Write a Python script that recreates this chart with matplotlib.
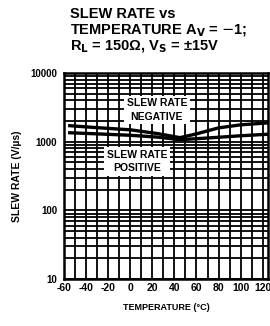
import matplotlib
matplotlib.use("Agg")
import matplotlib.pyplot as plt
import numpy as np

# slew rate vs temperature
temp = [-55, -30, 0, 25, 45, 60, 80, 100, 125]
sr_neg = [1710, 1600, 1490, 1310, 1145, 1300, 1590, 1760, 1880]
sr_pos = [1350, 1300, 1240, 1165, 1070, 1105, 1160, 1220, 1285]

xticks = [-60, -40, -20, 0, 20, 40, 60, 80, 100, 120]
yticks = [10, 100, 1000, 10000]

plt.rcParams["font.family"] = ["Liberation Sans", "DejaVu Sans"]

fig = plt.figure(figsize=(2.7, 3.26), dpi=100)
ax = fig.add_axes([0.238, 0.144, 0.755, 0.632])

ax.set_yscale("log")
ax.set_xlim(-60, 125)
ax.set_ylim(10, 10000)

# grid like the printed chart paper
for t in range(-60, 121, 10):
    ax.axvline(t, color="black", lw=1.3, zorder=1)
for dec in [10, 100, 1000]:
    for m in range(1, 10):
        ax.axhline(dec * m, color="black", lw=1.3, zorder=1)

ax.plot(temp, sr_neg, color="black", lw=2.4, zorder=3)
ax.plot(temp, sr_pos, color="black", lw=2.4, zorder=3)

box = dict(facecolor="white", edgecolor="none", pad=2)
ax.text(24, 2900, "SLEW RATE\nNEGATIVE", ha="center", va="center", fontsize=7.5,
        fontweight="bold", linespacing=1.4, bbox=box, zorder=4)
ax.text(6, 520, "SLEW RATE\nPOSITIVE", ha="center", va="center", fontsize=7.5,
        fontweight="bold", linespacing=1.4, bbox=box, zorder=4)

ax.set_xticks(xticks)
ax.set_xticklabels([str(x) for x in xticks], fontsize=7.5, fontweight="bold")
ax.set_yticks(yticks)
ax.set_yticklabels([str(y) for y in yticks], fontsize=7, fontweight="bold")
ax.yaxis.set_minor_locator(matplotlib.ticker.NullLocator())
ax.tick_params(length=0, pad=3)
ax.tick_params(axis="y", pad=5)
for s in ax.spines.values():
    s.set_linewidth(1.8)

ax.set_xlabel("TEMPERATURE (°C)", fontsize=6.5, fontweight="bold", labelpad=7)
ax.set_ylabel("SLEW RATE (V/µs)", fontsize=7.5, fontweight="bold", labelpad=6)

fig.text(0.26, 0.957, "SLEW RATE vs", fontsize=10.5, fontweight="bold", va="center")
fig.text(0.26, 0.906, r"TEMPERATURE A$_\mathbf{V}$ = $-$1;", fontsize=10.5,
         fontweight="bold", va="center")
fig.text(0.26, 0.855, r"R$_\mathbf{L}$ = 150Ω, V$_\mathbf{S}$ = ±15V", fontsize=10.5,
         fontweight="bold", va="center")

fig.savefig("out.png", dpi=100)
